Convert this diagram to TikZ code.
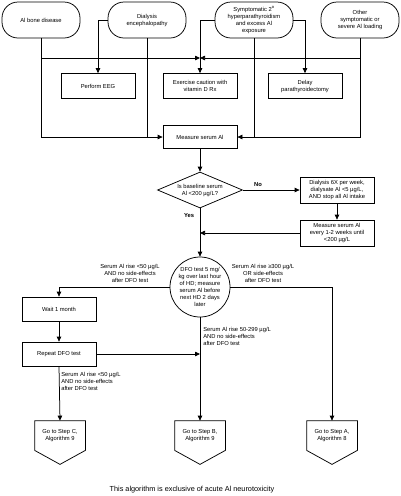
\documentclass[tikz,border=0pt]{standalone}
\usepackage{fontspec}
\setmainfont{Liberation Sans}
\usetikzlibrary{arrows.meta,shapes.geometric,calc}

\tikzset{
  every node/.style={font=\fontsize{5.8}{7}\selectfont, align=center},
  startbox/.style={draw, rounded corners=16pt, minimum width=78pt, minimum height=36pt, inner sep=1pt},
  actbox/.style={draw, rectangle, minimum width=74pt, minimum height=25pt, inner sep=1pt},
  askbox/.style={draw, diamond, aspect=2.4, inner sep=0pt, minimum width=85pt, minimum height=36pt},
  testcirc/.style={draw, circle, minimum size=60pt, inner sep=0pt},
  gotobox/.style={minimum width=50pt, minimum height=29pt, inner sep=0pt},
  arr/.style={-{Triangle[length=5pt,width=4.5pt]}},
}

\begin{document}
\begin{tikzpicture}[x=1pt,y=-1pt,line width=0.75pt]
\useasboundingbox (0,0) rectangle (400,496);
% top row
\node[startbox] (bone) at (41,20) {Al bone disease};
\node[startbox] (dial) at (147,20) {Dialysis\\encephalopathy};
\node[startbox] (symp) at (254,20) {Symptomatic 2\textsuperscript{o}\\hyperparathyroidism\\and excess Al\\exposure};
\node[startbox] (other) at (360,20) {Other\\symptomatic or\\severe Al loading};
\coordinate (junc) at (200,58);
% actions
\node[actbox] (eeg) at (98,86) {Perform EEG};
\node[actbox] (caution) at (200,86) {Exercise caution with\\vitamin D Rx};
\node[actbox] (delay) at (305,86) {Delay\\parathyroidectomy};
\node[actbox, minimum height=23pt] (measure) at (200,137) {Measure serum Al};
\node[askbox] (ask) at (200,190) {Is baseline serum\\Al <200 µg/L?};
\node[actbox, minimum height=26pt] (dial6) at (337,190) {Dialysis 6X per week,\\dialysate Al <5 µg/L,\\AND stop all Al intake};
\node[actbox, minimum height=26pt] (every) at (337,233) {Measure serum Al\\every 1-2 weeks until\\<200 µg/L};
\node[testcirc] (dfo) at (200,287) {DFO test 5 mg/\\kg over last hour\\of HD; measure\\serum Al before\\next HD 2 days\\later};
\node[actbox, minimum height=24pt] (wait) at (59,309) {Wait 1 month};
\node[actbox, minimum height=24pt] (repeat) at (59,354) {Repeat DFO test};
\node[gotobox] (gotoC) at (60,435.5) {Go to Step C,\\Algorithm 9};
\node[gotobox] (gotoB) at (200,435.5) {Go to Step B,\\Algorithm 9};
\node[gotobox] (gotoA) at (332,435.5) {Go to Step A,\\Algorithm 8};
\foreach \g in {gotoC,gotoB,gotoA}
  \draw (\g.north west) -- (\g.north east) -- (\g.south east) -- ($(\g.south)+(0,14)$) -- (\g.south west) -- cycle;

% labels
\node[font=\fontsize{5.8}{7}\selectfont\bfseries] (no) at (258,185) {No};
\node[font=\fontsize{5.8}{7}\selectfont\bfseries] (yes) at (189,216) {Yes};
\node (lowlab) at (130,273) {Serum Al rise <50 µg/L\\AND no side-effects\\after DFO test};
\node (highlab) at (263,273) {Serum Al rise ≥300 µg/L\\OR side-effects\\after DFO test};
\node[anchor=north west, align=left, inner sep=0pt] (midlab) at (203,327) {Serum Al rise 50-299 µg/L\\AND no side-effects\\after DFO test};
\node[anchor=north west, align=left, inner sep=0pt] (replab) at (61,372) {Serum Al rise <50 µg/L\\AND no side-effects\\after DFO test};
\node[font=\fontsize{7.3}{9}\selectfont] (foot) at (192,490) {This algorithm is exclusive of acute Al neurotoxicity};

% connectors
\draw[arr] (bone.south) |- (measure.west);
\draw[arr] (bone.south |- junc) -- (junc);
\draw[arr] (other.south |- junc) -- (junc);
\draw (dial.south) -- (dial.south |- measure.west);
\draw[arr] (dial.west) -| (eeg.north);
\draw[arr] (symp.west) -| (caution.north);
\draw[arr] (symp.east) -| (delay.north);
\draw (symp.south) -- (symp.south |- measure.east);
\draw[arr] (other.south) |- (measure.east);
\draw[arr] (measure.south) -- (ask.north);
\draw[arr] (ask.east) -- (dial6.west);
\draw[arr] (dial6.south) -- (every.north);
\draw[arr] (every.west) -- (every.west -| ask.south);
\draw[arr] (ask.south) -- (dfo.north);
\draw[arr] (dfo.west) -| (wait.north);
\draw[arr] (dfo.east) -| (gotoA.north);
\draw[arr] (dfo.south) -- (gotoB.north);
\draw[arr] (wait.south) -- (repeat.north);
\draw[arr] (repeat.east) -- (repeat.east -| dfo.south);
\draw[arr] (repeat.south) -- (gotoC.north);
\end{tikzpicture}
\end{document}
